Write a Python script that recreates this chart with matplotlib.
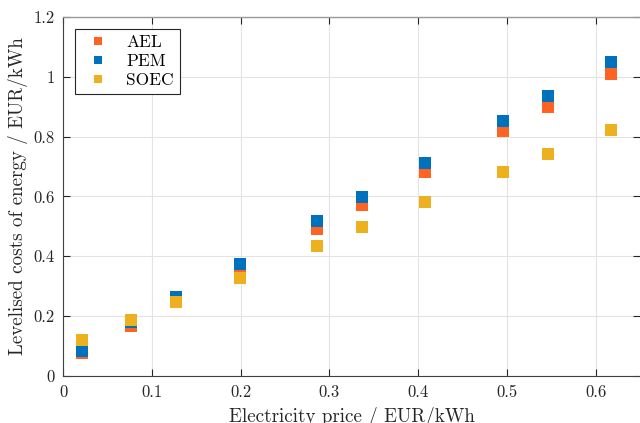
"""
Levelised costs of energy vs electricity price for AEL, PEM and SOEC.
"""

import numpy as np
import matplotlib
matplotlib.use('Agg')
import matplotlib.pyplot as plt

# ── Data ──────────────────────────────────────────────────────────────────────
price = [0.021, 0.077, 0.127, 0.199, 0.286, 0.337, 0.408, 0.496, 0.546, 0.617]
lcoe_ael = [0.078, 0.166, 0.255, 0.353, 0.493, 0.570, 0.681, 0.818, 0.898, 1.008]
lcoe_pem = [0.082, 0.182, 0.263, 0.376, 0.517, 0.597, 0.711, 0.854, 0.935, 1.049]
lcoe_soec = [0.119, 0.186, 0.246, 0.329, 0.436, 0.498, 0.580, 0.681, 0.741, 0.821]

series_names = ['AEL', 'PEM', 'SOEC']
colors = ['#FF6324', '#0072BD', '#EDB120']

plt.rcParams['font.family'] = 'cmr10'
plt.rcParams['mathtext.fontset'] = 'cm'
plt.rcParams['axes.unicode_minus'] = False
plt.rcParams['axes.formatter.use_mathtext'] = True

fig = plt.figure(figsize=(6.4, 4.23), dpi=100)
ax = fig.add_axes([63 / 640, 47 / 423, 577 / 640, 359 / 423])

for vals, name, c in zip([lcoe_ael, lcoe_pem, lcoe_soec], series_names, colors):
    ax.plot(price, vals, linestyle='none', marker='s', markersize=8,
            markeredgewidth=0, color=c, label=name, zorder=3)

ax.set_xlim(0, 0.65)
ax.set_ylim(0, 1.2)
ax.set_xticks(np.arange(0, 0.61, 0.1))
ax.set_yticks(np.arange(0, 1.21, 0.2))
ax.set_xticklabels(['0', '0.1', '0.2', '0.3', '0.4', '0.5', '0.6'])
ax.set_yticklabels(['0', '0.2', '0.4', '0.6', '0.8', '1', '1.2'])

ax.grid(True, color='#e3e3e3', linewidth=0.8, zorder=0)
ax.set_axisbelow(True)
ax.tick_params(direction='in', length=5, width=0.8, colors='#262626',
               labelsize=12, top=True, right=True, pad=6)
for side in ['left', 'bottom']:
    ax.spines[side].set_color('#404040')
    ax.spines[side].set_linewidth(0.8)
ax.spines['top'].set_color('#9a9a9a')
ax.spines['top'].set_linewidth(1.0)
ax.spines['right'].set_visible(False)

ax.set_xlabel('Electricity price / EUR/kWh', fontsize=13.7, color='#262626',
              labelpad=5)
ax.set_ylabel('Levelised costs of energy / EUR/kWh', fontsize=13.7,
              color='#262626', labelpad=4)

leg = ax.legend(loc='upper left', bbox_to_anchor=(12 / 577, 1 - 12 / 359),
                borderaxespad=0, fontsize=12.5, markerscale=0.7,
                handletextpad=0.6, borderpad=0.35, labelspacing=0.2,
                handlelength=2.0, fancybox=False, framealpha=1,
                edgecolor='#262626')
leg.get_frame().set_linewidth(0.8)

fig.savefig('out.png', dpi=100)
